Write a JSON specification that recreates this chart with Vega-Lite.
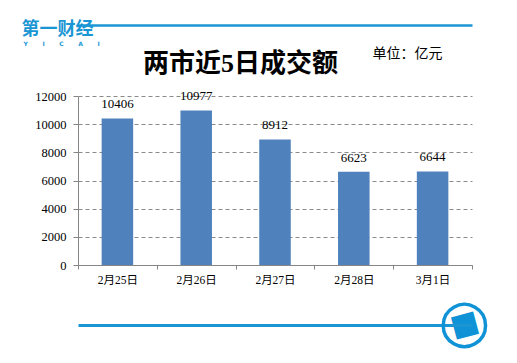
{
  "$schema": "https://vega.github.io/schema/vega-lite/v6.json",
  "width": 394,
  "height": 169,
  "autosize": {"type": "none"},
  "padding": {"left": 78, "top": 96, "right": 45, "bottom": 98},
  "background": "white",
  "config": {"view": {"stroke": null}, "font": "Liberation Serif, Noto Sans CJK SC"},
  "data": {"values": [
    {"date": "2月25日", "amount": 10406},
    {"date": "2月26日", "amount": 10977},
    {"date": "2月27日", "amount": 8912},
    {"date": "2月28日", "amount": 6623},
    {"date": "3月1日", "amount": 6644}
  ]},
  "layer": [
    {
      "mark": {"type": "bar", "color": "#4F81BD", "width": {"band": 0.4}},
      "encoding": {
        "x": {"field": "date", "type": "ordinal", "sort": null,
          "scale": {"paddingInner": 0, "paddingOuter": 0},
          "axis": {"orient": "bottom", "labelAngle": 0, "labelFontSize": 11.5, "labelColor": "#000",
            "labelFont": "Liberation Serif, Noto Sans CJK SC", "labelPadding": 5,
            "domainColor": "#868686", "tickColor": "#868686", "tickSize": 4, "tickBand": "extent",
            "grid": false,
            "title": "■", "titleX": 386, "titleY": 59, "titleAngle": -15, "titleAlign": "center",
            "titleBaseline": "middle", "titleFont": "DejaVu Sans", "titleFontSize": 30, "titleColor": "#0f93d6", "titleFontWeight": "normal"}},
        "y": {"field": "amount", "type": "quantitative",
          "scale": {"domain": [0, 12000], "nice": false},
          "axis": {"orient": "left", "values": [0, 2000, 4000, 6000, 8000, 10000, 12000], "format": "d",
            "labelFontSize": 12.5, "labelColor": "#000", "labelPadding": 7,
            "labelFont": "Liberation Serif",
            "domainColor": "#868686", "tickColor": "#868686", "tickSize": 5,
            "grid": true, "gridColor": "#8a8a8a", "gridDash": [4, 3],
            "title": "第一财经", "titleX": -57, "titleY": -67, "titleAngle": 0, "titleAlign": "left",
            "titleBaseline": "middle", "titleFont": "Noto Sans CJK SC", "titleFontSize": 18,
            "titleFontWeight": "bold", "titleColor": "#1a96d4"}}
      }
    },
    {
      "mark": {"type": "text", "baseline": "middle", "dy": -14, "fontSize": 13, "color": "#000", "font": "Liberation Serif"},
      "encoding": {
        "text": {"field": "amount", "type": "quantitative", "format": "d"},
        "x": {"field": "date", "type": "ordinal", "sort": null,
          "scale": {"paddingInner": 0, "paddingOuter": 0},
          "axis": {"orient": "top", "offset": 71, "domainColor": "#1a96d4", "domainWidth": 2.5,
            "ticks": false, "labels": false, "grid": false,
            "title": "单位：亿元", "titleX": 294, "titleY": 28, "titleAlign": "left", "titleBaseline": "middle",
            "titleFont": "Noto Sans CJK SC", "titleFontSize": 14, "titleFontWeight": "normal", "titleColor": "#000"}},
        "y": {"field": "amount", "type": "quantitative",
          "axis": {"orient": "right", "domain": true, "domainOpacity": 0, "ticks": false, "labels": false, "grid": false,
            "title": "○", "titleX": -8, "titleY": 226, "titleAngle": 0, "titleAlign": "center", "titleBaseline": "middle",
            "titleFont": "DejaVu Sans", "titleFontSize": 60, "titleFontWeight": "normal", "titleColor": "#0f93d6"}}
      }
    },
    {
      "mark": {"type": "bar", "opacity": 0},
      "encoding": {
        "x": {"field": "date", "type": "ordinal", "sort": null,
          "scale": {"paddingInner": 0, "paddingOuter": 0},
          "axis": {"orient": "bottom", "offset": 60, "domainColor": "#1a96d4", "domainWidth": 3,
            "ticks": false, "labels": false, "grid": false,
            "title": "两市近5日成交额", "titleX": 162, "titleY": -262, "titleAlign": "center", "titleBaseline": "middle",
            "titleFont": "Liberation Serif, Noto Sans CJK SC", "titleFontSize": 26, "titleFontWeight": "bold", "titleColor": "#000"}},
        "y": {"field": "amount", "type": "quantitative",
          "axis": {"orient": "left", "domain": true, "domainOpacity": 0, "ticks": false, "labels": false, "grid": false,
            "title": "Y\u00a0\u00a0\u00a0\u00a0\u00a0\u00a0\u00a0I\u00a0\u00a0\u00a0\u00a0\u00a0\u00a0\u00a0C\u00a0\u00a0\u00a0\u00a0\u00a0\u00a0\u00a0A\u00a0\u00a0\u00a0\u00a0\u00a0\u00a0\u00a0I", "titleX": -55, "titleY": -53, "titleAngle": 0, "titleAlign": "left",
            "titleBaseline": "middle", "titleFont": "DejaVu Sans", "titleFontSize": 6, "titleFontWeight": "bold", "titleColor": "#1a96d4"}}
      }
    }
  ],
  "resolve": {"axis": {"x": "independent", "y": "independent"}}
}
